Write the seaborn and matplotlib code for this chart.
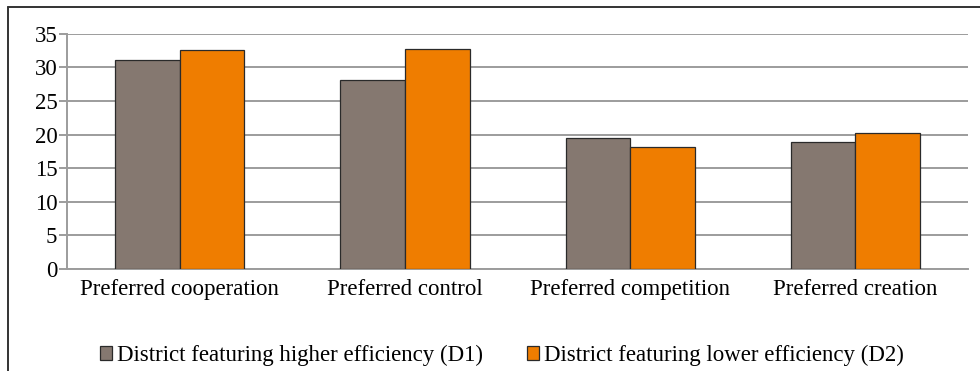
import pandas as pd
import matplotlib.pyplot as plt
import seaborn as sns
from matplotlib.patches import Rectangle
from matplotlib.lines import Line2D

# データ
categories = ['Preferred cooperation', 'Preferred control',
              'Preferred competition', 'Preferred creation']
d1_values = [31.1, 28.2, 19.5, 18.9]
d2_values = [32.6, 32.7, 18.1, 20.2]
series_names = ['District featuring higher efficiency (D1)',
                'District featuring lower efficiency (D2)']
y_ticks = [0, 5, 10, 15, 20, 25, 30, 35]

df = pd.DataFrame({
    'category': categories * 2,
    'value': d1_values + d2_values,
    'series': [series_names[0]] * 4 + [series_names[1]] * 4,
})

sns.set_theme(style='white')
plt.rcParams['font.family'] = ['Liberation Serif', 'DejaVu Serif']

fig = plt.figure(figsize=(9.8, 3.71), dpi=100)
ax = fig.add_axes([0.0684, 0.275, 0.9194, 0.6336])

palette = {series_names[0]: '#857870', series_names[1]: '#EF7D00'}
sns.barplot(data=df, x='category', y='value', hue='series', palette=palette,
            width=0.574, gap=0, edgecolor='#2a2a2a', linewidth=0.9,
            saturation=1, ax=ax, zorder=3)

ax.set_ylim(0, 35)
ax.set_xlim(-0.5, 3.5)
ax.set_yticks(y_ticks)
ax.set_yticklabels([str(t) for t in y_ticks], fontsize=16.5, color='black')
ax.yaxis.grid(True, color='#9c9c9c', linewidth=1.4, zorder=0)
ax.set_axisbelow(True)
ax.set_xlabel('')
ax.set_ylabel('')

# x軸の目盛りはカテゴリ境界に
ax.set_xticks([0, 1, 2, 3])
ax.set_xticklabels(categories, fontsize=16.5, color='black')
ax.tick_params(axis='x', length=0, pad=7)
ax.set_xticks([-0.5, 0.5, 1.5, 2.5, 3.5], minor=True)
ax.tick_params(axis='x', which='minor', length=6, width=1.4, color='#9c9c9c')
ax.tick_params(axis='y', length=6, width=1.4, color='#9c9c9c', pad=1, left=True)

for side in ['top', 'right']:
    ax.spines[side].set_visible(False)
for side in ['left', 'bottom']:
    ax.spines[side].set_color('#9c9c9c')
    ax.spines[side].set_linewidth(1.4)

ax.get_legend().remove()
handles = [Rectangle((0, 0), 1, 1, facecolor=palette[n], edgecolor='#2a2a2a', linewidth=0.9)
           for n in series_names]
fig.legend(handles, series_names, loc='center', bbox_to_anchor=(0.512, 0.042),
           ncol=2, frameon=False, fontsize=16.5, handlelength=0.55, handleheight=0.55,
           handletextpad=0.2, columnspacing=1.9, borderpad=0, labelcolor='black')

# 外枠（上と左のみ見える）
fig.add_artist(Line2D([0.0082, 1.0], [0.981, 0.981], transform=fig.transFigure,
                      color='#333333', linewidth=1.4))
fig.add_artist(Line2D([0.0082, 0.0082], [0.0, 0.981], transform=fig.transFigure,
                      color='#333333', linewidth=1.4))

fig.savefig('out.png', dpi=100)
